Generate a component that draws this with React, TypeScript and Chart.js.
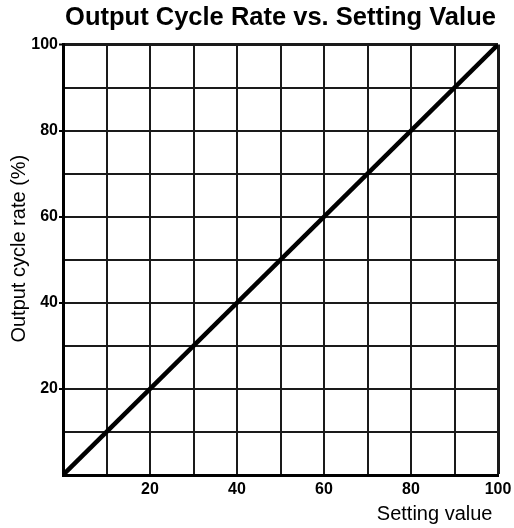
import React, { useEffect, useRef } from "react";
import { Chart, registerables } from "chart.js";

Chart.register(...registerables);

const chartTitle = "Output Cycle Rate vs. Setting Value";
const xAxisTitle = "Setting value ";
const yAxisTitle = "    Output cycle rate (%)";
const settingValues = [0, 100];
const outputCycleRates = [0, 100];
const labeledTicks = [20, 40, 60, 80, 100];

export default function App() {
  const ref = useRef<HTMLCanvasElement | null>(null);

  useEffect(() => {
    if (!ref.current) return;
    Chart.defaults.font.family = "'Liberation Sans', Arial, sans-serif";
    Chart.defaults.color = "#000";
    const points = settingValues.map((x, i) => ({ x, y: outputCycleRates[i] }));
    const tickCb = (v: any) => (labeledTicks.includes(Number(v)) ? String(v) : "");
    const chart = new Chart(ref.current, {
      type: "scatter",
      data: {
        datasets: [
          {
            data: points,
            showLine: true,
            borderColor: "#000",
            borderWidth: 4.5,
            pointRadius: 0,
            borderCapStyle: "butt",
          },
        ],
      },
      options: {
        animation: false,
        responsive: false,
        layout: { padding: { left: 0, right: 0, top: 0, bottom: 0 } },
        plugins: {
          legend: { display: false },
          tooltip: { enabled: false },
          title: {
            display: true,
            text: chartTitle,
            fullSize: false,
            font: { size: 25.5, weight: "bold" },
            color: "#000",
            padding: { top: 3, bottom: 11 },
          },
        },
        scales: {
          x: {
            type: "linear",
            min: 0,
            max: 100,
            ticks: {
              stepSize: 10,
              autoSkip: false,
              maxRotation: 0,
              callback: tickCb,
              font: { size: 16, weight: "bold" },
              color: "#000",
              padding: 5,
            },
            grid: {
              color: "#1a1a1a",
              lineWidth: (c: any) => (c.tick && c.tick.value === 100 ? 3 : 2),
              drawTicks: false,
            },
            border: { display: true, color: "#000", width: 3 },
            title: {
              display: true,
              text: xAxisTitle,
              align: "end",
              font: { size: 20 },
              color: "#000",
              padding: { top: 0, bottom: 2 },
            },
            afterFit: (scale: any) => {
              scale.height = 53;
              scale.paddingRight = 16;
            },
          },
          y: {
            type: "linear",
            min: 0,
            max: 100,
            ticks: {
              stepSize: 10,
              autoSkip: false,
              callback: tickCb,
              font: { size: 16, weight: "bold" },
              color: "#000",
              padding: 1,
            },
            grid: {
              color: "#1a1a1a",
              lineWidth: (c: any) => (c.tick && c.tick.value === 100 ? 3 : 2),
              tickLength: 4,
              tickColor: (c: any) =>
                c.tick && labeledTicks.includes(c.tick.value) ? "#000" : "rgba(0,0,0,0)",
              tickWidth: 2,
            },
            border: { display: true, color: "#000", width: 3 },
            title: {
              display: true,
              text: yAxisTitle,
              font: { size: 20 },
              color: "#000",
              padding: { top: 7, bottom: 0 },
            },
            afterFit: (scale: any) => {
              scale.width = 63;
            },
          },
        },
      },
    });
    return () => chart.destroy();
  }, []);

  return (
    <div style={{ position: "absolute", left: 0, top: 0, width: 514, height: 528, background: "#fff" }}>
      <canvas ref={ref} width={514} height={528} style={{ display: "block" }} />
    </div>
  );
}
